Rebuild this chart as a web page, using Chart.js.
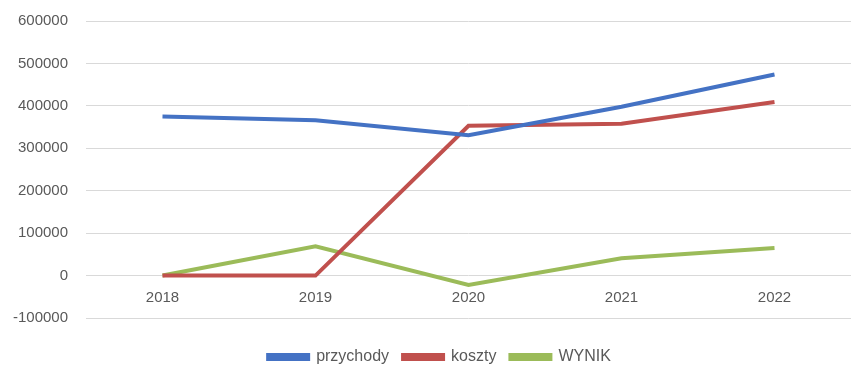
<!DOCTYPE html>
<html lang="pl">
<head>
  <meta charset="UTF-8">
  <title>Przychody, koszty, wynik</title>
  <script src="https://cdn.jsdelivr.net/npm/chart.js@4.4.1/dist/chart.umd.min.js"></script>
  <style>
    html, body { margin: 0; padding: 0; background: #ffffff; }
    #wrap { width: 867px; height: 365px; position: relative; }
  </style>
</head>
<body>
  <div id="wrap">
    <canvas id="chart"></canvas>
  </div>
  <script>
    const years = ['2018', '2019', '2020', '2021', '2022'];
    const przychody = [375000, 366000, 331000, 398000, 474000];
    const koszty = [0, 0, 353000, 358000, 409000];
    const wynik = [0, 69000, -22000, 41000, 65000];
    const yTicks = [-100000, 0, 100000, 200000, 300000, 400000, 500000, 600000];

    const font = { family: "'Liberation Sans', Arial, sans-serif", size: 15 };
    const gray = '#595959';

    function series(label, data, color) {
      return {
        label: label,
        data: data,
        borderColor: color,
        backgroundColor: color,
        borderWidth: 4,
        pointRadius: 0,
        tension: 0,
        fill: false
      };
    }

    // nudge the legend a little to the right, like in the original
    const legendShift = {
      id: 'legendShift',
      afterLayout(chart) {
        if (chart.legend) {
          chart.legend.left += 14;
          chart.legend.right += 14;
        }
      }
    };

    new Chart(document.getElementById('chart'), {
      type: 'line',
      data: {
        labels: years,
        datasets: [
          series('przychody', przychody, '#4472C4'),
          series('koszty', koszty, '#C0504D'),
          series('WYNIK', wynik, '#9BBB59')
        ]
      },
      options: {
        responsive: true,
        maintainAspectRatio: false,
        animation: false,
        layout: { padding: { top: 21, right: 16, bottom: -10, left: 0 } },
        scales: {
          x: {
            position: { y: 0 },
            offset: true,
            grid: { display: false, drawTicks: false },
            border: { display: false },
            ticks: { color: gray, font: font, padding: 13 }
          },
          y: {
            min: yTicks[0],
            max: yTicks[yTicks.length - 1],
            afterBuildTicks: (scale) => {
              scale.ticks = yTicks.map(v => ({ value: v }));
            },
            afterFit: (scale) => {
              scale.width = 86;
              // tick padding should not push the plot area down
              scale.paddingTop = 0;
              scale.paddingBottom = 0;
            },
            grid: { color: '#d9d9d9', lineWidth: 1, drawTicks: false },
            border: { display: false },
            ticks: { color: gray, font: font, padding: 18, callback: (v) => String(v) }
          }
        },
        plugins: {
          tooltip: { enabled: false },
          legend: {
            position: 'bottom',
            title: { display: true, text: '', padding: 0, font: { size: 17, lineHeight: 1 } },
            labels: {
              color: gray,
              font: { family: font.family, size: 16 },
              boxWidth: 40,
              boxHeight: 4,
              padding: 14
            }
          }
        }
      },
      plugins: [legendShift]
    });
  </script>
</body>
</html>
